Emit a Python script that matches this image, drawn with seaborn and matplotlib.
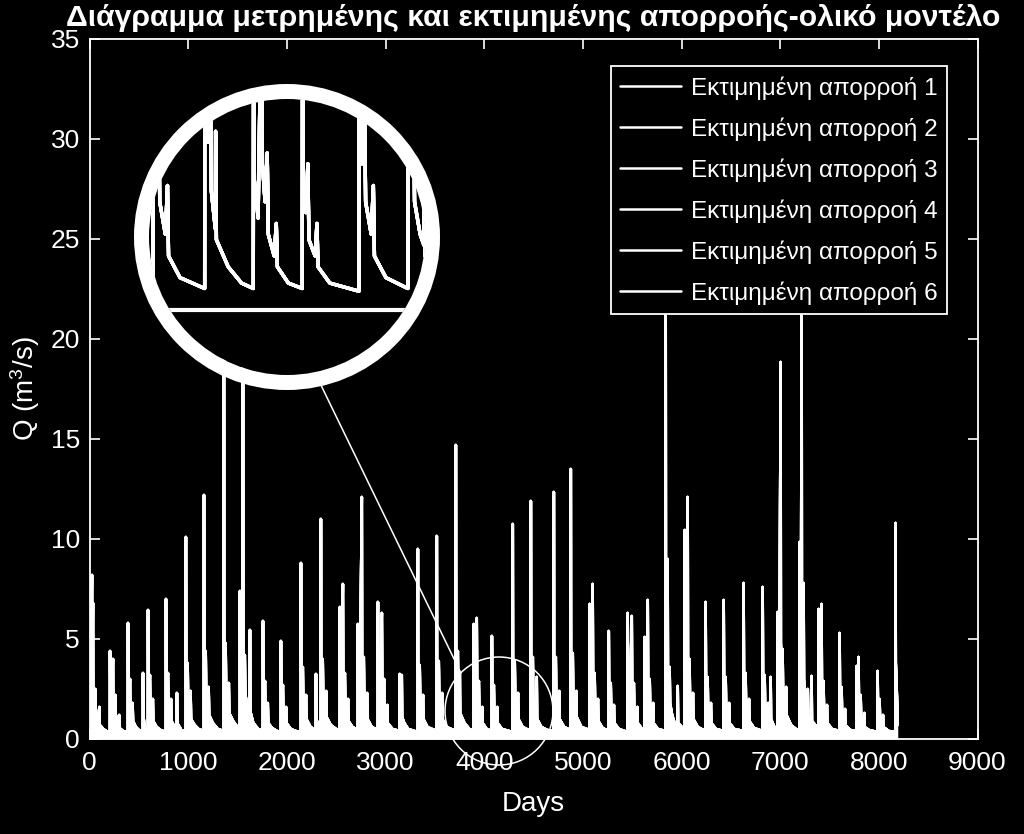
import numpy as np
import pandas as pd
import seaborn as sns
import matplotlib.pyplot as plt
from matplotlib.patches import Circle
from matplotlib.lines import Line2D

# Datos: vertices del hidrograma (dias, caudal m3/s)
days_a = [1, 10, 25, 27, 35, 37, 50, 58, 62, 85, 100, 104, 140, 185, 207,
          208, 211, 220, 238, 240, 255, 262, 266, 290, 300, 304, 340, 389,
          390, 393, 402, 410, 413, 430, 437, 441, 470, 500, 541, 542, 545, 560, 592,
          593, 596, 605, 612, 616, 635, 642, 646, 680, 720, 774,
          775, 778, 786, 795, 799, 818, 826, 830, 865, 885, 886, 889, 930, 976,
          977, 979, 986, 995, 999, 1018, 1025, 1029, 1065, 1105, 1159,
          1160, 1162, 1170, 1178, 1182, 1200, 1208, 1212, 1250, 1300, 1361,
          1362, 1364, 1372, 1380, 1384, 1405, 1412, 1416, 1455, 1500, 1524, 1525, 1528, 1554,
          1555, 1557, 1566, 1574, 1578, 1600, 1625, 1626, 1629, 1660, 1710, 1757,
          1758, 1761, 1770, 1778, 1782, 1800, 1807, 1811, 1850, 1900, 1939,
          1940, 1943, 1952, 1960, 1964, 1985, 1992, 1996]
q_a = [2.6, 1.8, 8.2, 2.9, 6.8, 2.4, 1.6, 2.5, 1.3, 0.9, 1.6, 0.7, 0.5, 0.35, 0.4,
       4.4, 2.3, 1.6, 4.0, 2.0, 1.3, 2.2, 1.0, 0.7, 1.2, 0.55, 0.4, 0.35,
       5.8, 2.6, 2.0, 3.0, 1.5, 1.1, 1.8, 0.9, 0.6, 0.45, 0.4, 3.3, 1.2, 0.6, 0.4,
       6.45, 2.8, 2.1, 3.2, 1.6, 1.2, 2.0, 0.9, 0.6, 0.45, 0.35,
       7.0, 3.0, 2.3, 3.3, 1.7, 1.2, 2.0, 0.9, 0.6, 0.5, 2.3, 0.8, 0.45, 0.35,
       10.1, 3.6, 2.6, 3.8, 1.9, 1.4, 2.4, 1.0, 0.7, 0.5, 0.4,
       12.2, 4.2, 3.0, 4.4, 2.2, 1.6, 2.6, 1.2, 0.8, 0.5, 0.4,
       26.0, 5.0, 3.6, 4.8, 2.6, 1.8, 2.8, 1.3, 0.9, 0.6, 0.5, 7.4, 2.0, 0.8,
       23.0, 4.6, 3.3, 4.2, 2.3, 1.6, 1.2, 5.45, 1.4, 0.8, 0.5, 0.4,
       5.9, 2.6, 2.0, 2.9, 1.5, 1.1, 1.8, 0.8, 0.55, 0.4, 0.35,
       4.9, 2.3, 1.8, 2.7, 1.3, 1.0, 1.6, 0.8]

days_b = [2040, 2090, 2142,
          2143, 2145, 2154, 2162, 2166, 2186, 2194, 2198, 2240, 2294, 2295, 2298, 2344,
          2345, 2347, 2356, 2364, 2368, 2390, 2398, 2402, 2445, 2500, 2537,
          2538, 2541, 2555, 2568, 2571, 2580, 2588, 2592, 2612, 2620, 2624, 2665, 2719,
          2720, 2723, 2740, 2760, 2762, 2771, 2780, 2784, 2805, 2813, 2817, 2860, 2922,
          2923, 2926, 2945, 2963, 2966, 2976, 2985, 2989, 3010, 3018, 3022, 3070, 3144,
          3145, 3148, 3158, 3165, 3168, 3190, 3230, 3327,
          3328, 3330, 3339, 3347, 3351, 3372, 3380, 3384, 3425, 3519,
          3520, 3522, 3531, 3540, 3544, 3565, 3573, 3577, 3620, 3712,
          3713, 3715, 3724, 3733, 3737, 3752, 3753, 3756, 3800, 3850, 3894,
          3895, 3898, 3912, 3925, 3928, 3938, 3946, 3950, 3972, 3980, 3984]
q_b = [0.5, 0.4, 0.35,
       8.8, 3.4, 2.5, 3.6, 1.8, 1.3, 2.2, 1.0, 0.6, 0.45, 3.25, 1.0, 0.4,
       11.0, 3.9, 2.8, 4.0, 2.0, 1.4, 2.4, 1.1, 0.7, 0.5, 0.45,
       6.6, 2.5, 1.9, 7.75, 3.1, 2.3, 3.3, 1.7, 1.2, 2.0, 0.9, 0.6, 0.45,
       5.75, 2.4, 1.7, 12.1, 4.0, 2.9, 4.1, 2.0, 1.4, 2.3, 1.0, 0.6, 0.45,
       6.85, 2.7, 1.9, 6.3, 2.8, 2.0, 3.0, 1.5, 1.1, 1.7, 0.8, 0.5, 0.4,
       3.25, 1.8, 1.4, 3.2, 1.1, 0.8, 0.5, 0.35,
       9.5, 3.5, 2.6, 3.7, 1.9, 1.3, 2.2, 1.0, 0.6, 0.4,
       10.15, 3.7, 2.7, 3.9, 2.0, 1.4, 2.3, 1.0, 0.6, 0.4,
       14.7, 4.4, 3.1, 4.4, 2.2, 1.5, 3.3, 1.3, 0.8, 0.5, 0.4,
       5.75, 2.4, 1.7, 6.05, 2.7, 2.0, 2.9, 1.4, 1.0, 1.6, 0.8]

days_c = [4025, 4077,
          4078, 4081, 4090, 4098, 4102, 4125, 4132, 4136, 4180, 4289,
          4290, 4292, 4301, 4310, 4314, 4335, 4343, 4347, 4390, 4472,
          4473, 4475, 4484, 4493, 4497, 4518, 4532, 4533, 4536, 4580, 4640, 4705,
          4706, 4708, 4717, 4726, 4730, 4752, 4760, 4764, 4810, 4877,
          4878, 4880, 4889, 4898, 4902, 4925, 4933, 4937, 4985, 5069,
          5070, 5073, 5088, 5100, 5103, 5112, 5120, 5124, 5145, 5153, 5157, 5200, 5262,
          5263, 5266, 5275, 5283, 5287, 5308, 5315, 5319, 5365, 5454,
          5455, 5458, 5478, 5496, 5499, 5509, 5517, 5521, 5545, 5552, 5556, 5600, 5626,
          5627, 5630, 5645, 5658, 5661, 5670, 5678, 5682, 5705, 5712, 5716, 5760, 5839,
          5840, 5842, 5850, 5860, 5862, 5872, 5880, 5884, 5905, 5930, 5961, 5962, 5965]
q_c = [0.5, 0.4,
       5.15, 2.4, 1.8, 2.7, 1.3, 1.0, 1.6, 0.8, 0.5, 0.35,
       10.75, 3.8, 2.7, 3.9, 2.0, 1.4, 2.3, 1.0, 0.6, 0.4,
       11.9, 4.0, 2.9, 4.1, 2.0, 1.4, 1.2, 3.1, 1.0, 0.6, 0.45, 0.4,
       12.35, 4.1, 2.9, 4.1, 2.0, 1.4, 2.4, 1.0, 0.6, 0.45,
       13.5, 4.3, 3.0, 4.3, 2.1, 1.5, 2.4, 1.1, 0.6, 0.45,
       6.75, 2.7, 2.0, 7.75, 3.1, 2.3, 3.3, 1.7, 1.2, 2.0, 0.9, 0.55, 0.4,
       5.4, 2.4, 1.8, 2.8, 1.4, 1.0, 1.7, 0.8, 0.5, 0.35,
       6.3, 2.6, 1.8, 6.15, 2.6, 1.9, 2.8, 1.4, 1.0, 1.6, 0.8, 0.5, 0.4,
       5.1, 2.2, 1.6, 6.95, 2.8, 2.1, 3.0, 1.5, 1.1, 1.8, 0.8, 0.5, 0.4,
       25.0, 5.0, 3.5, 9.0, 3.6, 2.6, 3.6, 1.8, 1.2, 0.8, 0.6, 2.65, 0.8]

days_d = [6032,
          6033, 6035, 6048, 6063, 6065, 6074, 6082, 6086, 6108, 6116, 6120, 6165, 6244,
          6245, 6248, 6257, 6265, 6269, 6290, 6298, 6302, 6350, 6427,
          6428, 6431, 6440, 6448, 6452, 6474, 6482, 6486, 6535, 6629,
          6630, 6633, 6642, 6650, 6654, 6676, 6684, 6688, 6735, 6822,
          6823, 6826, 6835, 6843, 6847, 6870, 6878, 6882, 6903, 6904, 6907, 6950, 6974,
          6975, 6978, 6992, 7005, 7007, 7016, 7025, 7029, 7052, 7060, 7064, 7110, 7160, 7197,
          7198, 7200, 7210, 7218, 7220, 7230, 7238, 7241, 7250, 7272, 7280, 7284, 7318, 7319, 7322, 7389,
          7390, 7393, 7408, 7420, 7423, 7432, 7440, 7444, 7466, 7474, 7478, 7525, 7602,
          7603, 7606, 7615, 7623, 7627, 7650, 7657, 7661, 7710, 7774,
          7775, 7778, 7788, 7795, 7798, 7808, 7816, 7820, 7845, 7852, 7856, 7900, 7987,
          7988, 7991, 8000, 8008, 8012, 8035, 8042, 8046, 8100, 8169,
          8170, 8172, 8180, 8186, 8192]
q_d = [0.45,
       10.45, 3.6, 2.6, 12.1, 4.1, 2.9, 4.0, 2.0, 1.4, 2.3, 1.0, 0.6, 0.4,
       6.85, 2.8, 2.1, 3.1, 1.5, 1.1, 1.8, 0.8, 0.5, 0.4,
       6.95, 2.8, 2.1, 3.1, 1.5, 1.1, 1.8, 0.8, 0.5, 0.4,
       7.8, 3.1, 2.3, 3.3, 1.7, 1.2, 2.0, 0.9, 0.55, 0.4,
       7.6, 3.0, 2.2, 3.2, 1.6, 1.1, 1.8, 0.9, 0.7, 3.1, 1.0, 0.5, 0.45,
       6.35, 2.5, 1.9, 18.85, 4.8, 3.3, 4.5, 2.3, 1.6, 2.6, 1.2, 0.7, 0.5, 0.45,
       9.85, 3.4, 2.5, 24.0, 5.0, 3.4, 7.8, 3.0, 2.4, 1.6, 2.5, 1.2, 0.8, 3.15, 0.9, 0.5,
       6.5, 2.6, 1.9, 6.75, 2.7, 2.0, 2.9, 1.5, 1.1, 1.7, 0.8, 0.5, 0.4,
       5.3, 2.3, 1.7, 2.6, 1.3, 1.0, 1.5, 0.7, 0.45, 0.4,
       3.65, 1.8, 1.4, 4.1, 2.0, 1.5, 2.2, 1.1, 0.8, 1.3, 0.6, 0.45, 0.35,
       3.4, 1.7, 1.3, 2.0, 1.0, 0.8, 1.2, 0.6, 0.4, 0.35,
       10.8, 3.8, 2.7, 1.6, 0.7]

series_labels = ["Εκτιμημένη απορροή 1", "Εκτιμημένη απορροή 2", "Εκτιμημένη απορροή 3",
                 "Εκτιμημένη απορροή 4", "Εκτιμημένη απορροή 5", "Εκτιμημένη απορροή 6"]
title = "Διάγραμμα μετρημένης και εκτιμημένης απορροής-ολικό μοντέλο"
x_ticks = list(range(0, 9001, 1000))
y_ticks = list(range(0, 36, 5))

df = pd.DataFrame({"Days": days_a + days_b + days_c + days_d,
                   "Q": q_a + q_b + q_c + q_d})

# Estilo: fondo negro, todo en blanco
sns.set_theme(style="ticks", rc={
    "axes.facecolor": "black", "figure.facecolor": "black",
    "axes.edgecolor": "white", "xtick.color": "white", "ytick.color": "white",
    "text.color": "white", "axes.labelcolor": "white",
})
plt.rcParams["font.family"] = ["Liberation Sans", "DejaVu Sans"]
plt.rcParams["mathtext.fontset"] = "custom"
plt.rcParams["mathtext.rm"] = "Liberation Sans"
plt.rcParams["mathtext.default"] = "regular"

W, H = 1024, 834
fig = plt.figure(figsize=(W / 100, H / 100), dpi=100)

# Ejes principales (en pixeles)
ax_l, ax_r, ax_t, ax_b = 89.5, 977.5, 39, 739
ax = fig.add_axes([ax_l / W, (H - ax_b) / H, (ax_r - ax_l) / W, (ax_b - ax_t) / H])

# las seis curvas casi se superponen: la zona baja se ve rellena de blanco
ax.fill_between(df["Days"], df["Q"], color="white", lw=0)
for lab in series_labels:
    sns.lineplot(data=df, x="Days", y="Q", ax=ax, color="white", linewidth=1.8,
                 label=lab, estimator=None, errorbar=None, sort=False)

ax.set_xlim(0, 9000)
ax.set_ylim(0, 35)
ax.set_xticks(x_ticks)
ax.set_yticks(y_ticks)
ax.tick_params(direction="in", length=7, width=1.2, top=True, right=True,
               labelsize=19, colors="white")
ax.tick_params(axis="x", pad=9)
ax.tick_params(axis="y", pad=7)
for s in ax.spines.values():
    s.set_color("white")
    s.set_linewidth(1.3)
ax.set_xlabel("Days", fontsize=20, labelpad=11)
ax.set_ylabel("Q (m$^3$/s)", fontsize=20, labelpad=6)
ax.set_title(title, fontsize=21.7, fontweight="bold", color="white", pad=9)

leg = ax.legend(loc="upper right", bbox_to_anchor=(0.966, 0.961), borderaxespad=0,
                fontsize=17.5, frameon=True, facecolor="black", edgecolor="white",
                labelcolor="white", handlelength=2.5, handletextpad=0.4,
                labelspacing=0.72, borderpad=0.4, fancybox=False, framealpha=1)
leg.get_frame().set_linewidth(1.3)

# Lupa: circulo pequeno en el grafico y ampliacion arriba a la izquierda
px_day = (ax_r - ax_l) / 9000
px_q = (ax_b - ax_t) / 35
small_c, small_r = (499, 711), 54
big_c, big_r, ring_w = (287, 237), 138, 15
zoom_day, zoom_q, mag = 4020, 1.35, 2.71

axin = fig.add_axes([(big_c[0] - big_r) / W, (H - big_c[1] - big_r) / H,
                     2 * big_r / W, 2 * big_r / H])
axin.set_zorder(5)
axin.set_axis_off()
disc = Circle((0.5, 0.5), 0.5, transform=axin.transAxes, facecolor="black",
              edgecolor="none", zorder=0)
axin.add_patch(disc)
for lab in series_labels:
    sns.lineplot(data=df, x="Days", y="Q", ax=axin, color="white", linewidth=2.4,
                 legend=False, estimator=None, errorbar=None, sort=False)
axin.axhline(0, color="white", lw=3)
half_d = big_r / (px_day * mag)
half_q = big_r / (px_q * mag)
axin.set_xlim(zoom_day - half_d, zoom_day + half_d)
axin.set_ylim(zoom_q - half_q, zoom_q + half_q)
for ln in axin.get_lines():
    ln.set_clip_path(disc)


def to_in(p):
    return p[0] / 100, (H - p[1]) / 100


ring = Circle(to_in(big_c), (big_r + ring_w / 2) / 100, transform=fig.dpi_scale_trans,
              fill=False, edgecolor="white", lw=ring_w * 0.72, zorder=20)
fig.add_artist(ring)
small = Circle(to_in(small_c), small_r / 100, transform=fig.dpi_scale_trans,
               fill=False, edgecolor="white", lw=1.1, zorder=20)
fig.add_artist(small)

a1, a2 = np.deg2rad(13), np.deg2rad(45)
p1 = (big_c[0] + (big_r + ring_w) * np.sin(a1), big_c[1] + (big_r + ring_w) * np.cos(a1))
p2 = (small_c[0] - small_r * np.cos(a2), small_c[1] - small_r * np.sin(a2))
q1, q2 = to_in(p1), to_in(p2)
fig.add_artist(Line2D([q1[0], q2[0]], [q1[1], q2[1]], transform=fig.dpi_scale_trans,
                      color="white", lw=1.1, zorder=19))

fig.savefig("out.png", dpi=100, facecolor="black")
